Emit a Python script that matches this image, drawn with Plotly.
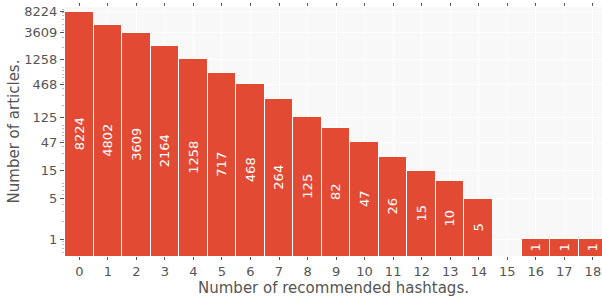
import plotly.graph_objects as go

hashtags = list(range(19))
articles = [8224, 4802, 3609, 2164, 1258, 717, 468, 264, 125, 82, 47, 26, 15, 10, 5, 0, 1, 1, 1]
y_ticks = [1, 5, 15, 47, 125, 468, 1258, 3609, 8224]

bar_x = [h for h, a in zip(hashtags, articles) if a > 0]
bar_y = [a for a in articles if a > 0]

minor_vals = [m * 10 ** k for k in range(-1, 4) for m in range(2, 10)]

fig = go.Figure()
fig.add_trace(go.Bar(
    x=bar_x, y=bar_y,
    text=[str(v) for v in bar_y],
    textposition="inside",
    insidetextanchor="middle",
    textangle=-90,
    textfont=dict(color="white", size=13, family="DejaVu Sans"),
    marker=dict(color="#E24A33", line=dict(color="white", width=1)),
    cliponaxis=True,
))

fig.update_layout(
    width=602, height=297,
    margin=dict(l=65, r=0, t=7, b=41),
    paper_bgcolor="white",
    plot_bgcolor="#F8F8F8",
    bargap=0,
    showlegend=False,
    font=dict(family="DejaVu Sans", color="#555555", size=13),
    uniformtext=dict(minsize=8, mode="show"),
)
fig.update_xaxes(
    automargin=False,
    range=[-0.5, 18.32],
    tickmode="array", tickvals=hashtags, ticktext=[str(h) for h in hashtags],
    ticks="outside", ticklen=3, tickcolor="#555555",
    ticklabeloverflow="allow",
    showgrid=True, gridcolor="white", gridwidth=1,
    zeroline=False, showline=False, mirror="ticks",
    tickfont=dict(size=13, color="#555555"),
    title=dict(text="Number of recommended hashtags.", font=dict(size=15, color="#555555"), standoff=1),
)
fig.update_yaxes(
    automargin=False,
    type="log",
    range=[-0.29, 4.0],
    tickmode="array", tickvals=y_ticks, ticktext=[str(t) for t in y_ticks],
    ticks="outside", ticklen=4, tickcolor="#555555",
    showgrid=True, gridcolor="white", gridwidth=1,
    zeroline=False, showline=False,
    minor=dict(tickmode="array", tickvals=minor_vals, ticks="outside", ticklen=2, tickcolor="#BBBBBB", showgrid=False),
    tickfont=dict(size=13, color="#555555"),
    title=dict(text="Number of articles.", font=dict(size=15, color="#555555"), standoff=1),
)

fig.write_html(
    "out.html",
    config={"displayModeBar": False},
    post_script="document.body.style.margin='0';document.body.style.overflow='hidden';",
)
